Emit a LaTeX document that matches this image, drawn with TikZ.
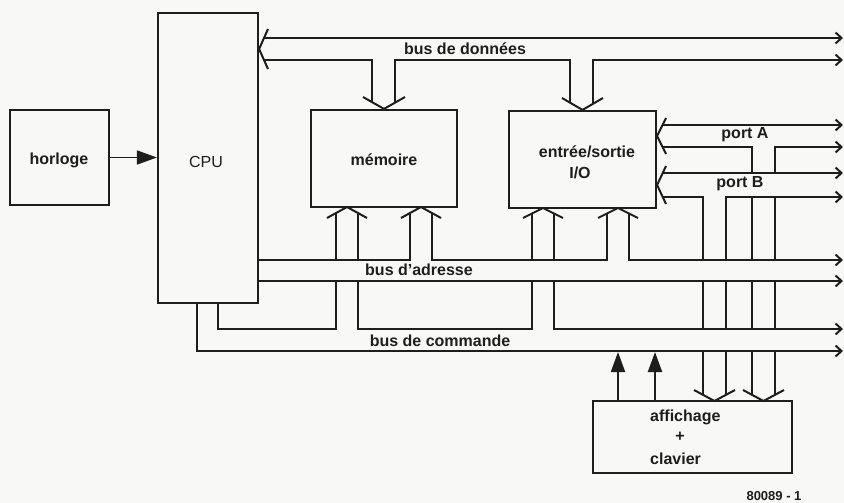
\documentclass[tikz,border=0pt]{standalone}
\usepackage{fontspec}
\setmainfont{Liberation Sans}
\usetikzlibrary{arrows.meta}
\definecolor{paper}{RGB}{248,248,246}
\definecolor{ink}{RGB}{30,30,30}
\begin{document}
\begin{tikzpicture}[x=1pt,y=-1pt,
  box/.style={draw=ink,line width=2.2pt,inner sep=0pt},
  bl/.style={draw=ink,line width=2pt},
  lbl/.style={font=\bfseries\fontsize{16}{18}\selectfont,inner sep=0pt,text=ink},
  rtip/.style={-{Straight Barb[length=6pt,width=11pt]}},
  filltip/.style={-{Triangle[length=20pt,width=14pt]}}
]
\useasboundingbox (0,0) rectangle (844,503);
\fill[paper] (0,0) rectangle (844,503);

% boxes
\node[box,minimum width=99pt,minimum height=95pt] (horloge) at (59.5,157.5) {};
\node[box,minimum width=100pt,minimum height=290pt] (cpu) at (208,158) {};
\node[box,minimum width=146pt,minimum height=97pt] (mem) at (384,158.5) {};
\node[box,minimum width=147pt,minimum height=97pt] (io) at (582.5,159.5) {};
\node[box,minimum width=199pt,minimum height=72pt] (aff) at (692.5,437) {};

% clock arrow
\draw[draw=ink,line width=1.6pt,filltip,fill=ink] (horloge.east) -- (horloge.east -| cpu.west);

% data bus
\coordinate (dbtip) at (cpu.east |- 0,49);
\draw[bl] (268,29) -- (dbtip) -- (268,69);
\draw[bl,rtip] (265,38) -- (843,38);
\draw[bl] (265,60) -- (372,60) -- (372,102);
\draw[bl] (395,102) -- (395,60) -- (570,60) -- (570,103);
\draw[bl,rtip] (593,103) -- (593,60) -- (843,60);
\draw[bl] (363,97) -- (mem.north) -- (405,97);
\draw[bl] (562,98) -- (io.north) -- (603,98);

% port A
\coordinate (patip) at (io.east |- 0,136);
\draw[bl] (666,118) -- (patip) -- (666,154);
\draw[bl,rtip] (663,125) -- (843,125);
\draw[bl] (663,147) -- (752,147) -- (752,173);
\draw[bl,rtip] (775,173) -- (775,147) -- (843,147);

% port B
\coordinate (pbtip) at (io.east |- 0,185);
\draw[bl] (666,166) -- (pbtip) -- (666,204);
\draw[bl,rtip] (662,173) -- (843,173);
\draw[bl] (662,197) -- (703,197) -- (703,260);
\draw[bl,rtip] (726,260) -- (726,197) -- (843,197);
\draw[bl] (752,197) -- (752,260);
\draw[bl] (775,197) -- (775,260);

% address bus
\draw[bl] (cpu.east |- 0,260) -- (410,260) -- (410,213);
\draw[bl] (432,213) -- (432,260) -- (607,260) -- (607,213);
\draw[bl,rtip] (629,213) -- (629,260) -- (843,260);
\draw[bl,rtip] (cpu.east |- 0,281) -- (843,281);
% memory chevrons
\draw[bl] (327,218) -- (347,207) -- (367,218);
\draw[bl] (401,218) -- (421,207) -- (441,218);
\draw[bl] (336,213) -- (336,260);
\draw[bl] (358,213) -- (358,260);
% io chevrons
\draw[bl] (523,218) -- (543,208) -- (563,218);
\draw[bl] (598,218) -- (618,208) -- (638,218);
\draw[bl] (532,213) -- (532,260);
\draw[bl] (554,213) -- (554,260);

% command bus
\draw[bl] (cpu.south -| 218,0) -- (218,329) -- (336,329) -- (336,281);
\draw[bl] (358,281) -- (358,329) -- (532,329) -- (532,281);
\draw[bl,rtip] (554,281) -- (554,329) -- (843,329);
\draw[bl,rtip] (cpu.south -| 197,0) -- (197,351) -- (843,351);

% verticals to display/keyboard
\foreach \xx in {703,726,752,775}{
  \draw[bl] (\xx,281) -- (\xx,329);
  \draw[bl] (\xx,351) -- (\xx,395);
}
\draw[bl] (694,390) -- (714.5,401) -- (735,390);
\draw[bl] (743,390) -- (763.5,401) -- (784,390);

% display to command bus
\draw[draw=ink,line width=2pt,filltip,fill=ink] (aff.north -| 618,0) -- (618,352);
\draw[draw=ink,line width=2pt,filltip,fill=ink] (aff.north -| 655,0) -- (655,352);

% labels
\node[lbl] (t1) at (59,160) {horloge};
\node[lbl,font=\fontsize{16}{18}\selectfont] (t2) at (206,162) {CPU};
\node[lbl] (t3) at (384,160) {mémoire};
\node[lbl] (t4) at (587,152) {entrée/sortie};
\node[lbl] (t5) at (580,173) {I/O};
\node[lbl] (t6) at (465,49) {bus de données};
\node[lbl] (t7) at (745,135) {port A};
\node[lbl] (t8) at (740,184) {port B};
\node[lbl] (t9) at (419,270) {bus d’adresse};
\node[lbl] (t10) at (440,341) {bus de commande};
\node[lbl,anchor=west] (t11) at (650,417) {affichage};
\node[lbl] (t12) at (680,437) {+};
\node[lbl,anchor=west] (t13) at (650,459) {clavier};
\node[lbl,font=\bfseries\fontsize{13}{15}\selectfont] (t14) at (774,496) {80089 - 1};
\end{tikzpicture}
\end{document}
